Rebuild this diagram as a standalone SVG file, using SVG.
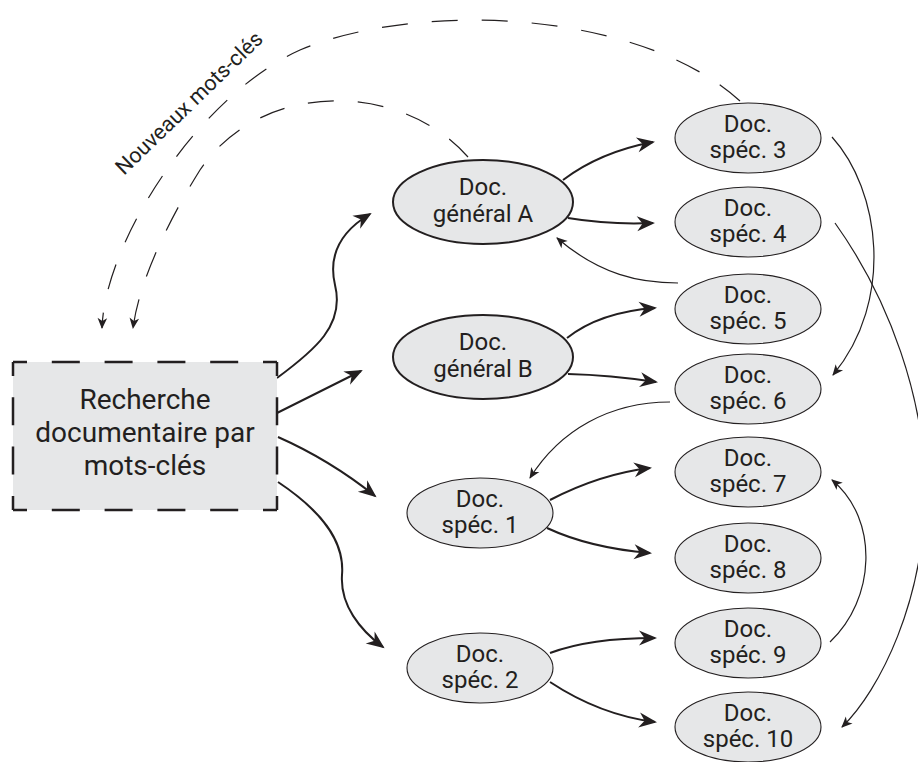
<svg xmlns="http://www.w3.org/2000/svg" width="918" height="762" viewBox="0 0 918 762">
  <style>
    .lbl { font-family: Roboto, "Liberation Sans", sans-serif; fill: #231f20; text-anchor: middle; }
    .node-text { font-size: 24px; }
    .box-text { font-size: 28px; }
    .gen { fill: #e6e7e8; stroke: #231f20; stroke-width: 2; }
    .spec { fill: #e6e7e8; stroke: #231f20; stroke-width: 1.1; }
    .thick { fill: none; stroke: #231f20; stroke-width: 2; marker-end: url(#arrowBig); }
    .thin { fill: none; stroke: #231f20; stroke-width: 1.2; marker-end: url(#arrowSmall); }
    .dash { fill: none; stroke: #231f20; stroke-width: 1.2; stroke-dasharray: 26 24; marker-end: url(#arrowSmall); }
    .boxedge { stroke: #231f20; stroke-width: 2.5; fill: none; }
  </style>
  <defs>
    <marker id="arrowBig" viewBox="-18 -9 21 18" refX="0" refY="0" markerWidth="21" markerHeight="18" markerUnits="userSpaceOnUse" orient="auto">
      <path d="M2,0 L-16,-7.5 L-10.5,0 L-16,7.5 Z" fill="#231f20"/>
    </marker>
    <marker id="arrowSmall" viewBox="-12 -6 14 12" refX="0" refY="0" markerWidth="14" markerHeight="12" markerUnits="userSpaceOnUse" orient="auto">
      <path d="M1,0 L-10,-4.8 L-7,0 L-10,4.8 Z" fill="#231f20"/>
    </marker>
  </defs>

  <!-- connectors -->
  <g id="connectors">
    <!-- feedback loops: new keywords back to the search -->
    <path class="dash" d="M740,101 C640,10 420,0 300,50 C200,95 105,240 102,328"/>
    <path class="dash" d="M468,157 C400,80 260,80 200,170 C175,210 140,275 133,328"/>

    <!-- from the search box -->
    <path class="thick" d="M277,378 C315,350 345,325 335,285 C328,255 340,232 370,214"/>
    <path class="thick" d="M277,413 L361,371"/>
    <path class="thick" d="M278,437 Q330,460 375,496"/>
    <path class="thick" d="M278,482 C320,510 345,540 342,575 C340,605 360,630 383,647"/>

    <!-- from general docs -->
    <path class="thick" d="M563,180 Q600,152 653,142"/>
    <path class="thick" d="M568,218 Q610,225 653,223"/>
    <path class="thick" d="M567,338 Q600,312 655,308"/>
    <path class="thick" d="M568,374 Q610,375 656,382"/>

    <!-- from spec 1 and spec 2 -->
    <path class="thick" d="M550,500 Q600,474 650,468"/>
    <path class="thick" d="M547,528 Q590,548 650,553"/>
    <path class="thick" d="M550,653 Q590,638 655,638"/>
    <path class="thick" d="M550,682 Q600,715 655,722"/>

    <!-- thin cross references -->
    <path class="thin" d="M678,283 C640,283 600,275 557,238"/>
    <path class="thin" d="M670,402 C610,402 560,430 530,478"/>
    <path class="thin" d="M832,137 C880,190 895,300 833,375"/>
    <path class="thin" d="M835,223 C890,300 925,400 925,490 C925,600 880,690 842,727"/>
    <path class="thin" d="M830,642 C875,600 880,520 832,480"/>
  </g>

  <!-- rotated label on the loops -->
  <text class="lbl" font-size="21.5" transform="translate(124,176) rotate(-44)" style="text-anchor:start">Nouveaux mots-clés</text>

  <!-- search box -->
  <g id="search-box">
    <rect x="13" y="362" width="264" height="148" fill="#e6e7e8"/>
    <line class="boxedge" x1="13" y1="362" x2="277" y2="362" stroke-dasharray="28 24.8" stroke-dashoffset="14"/>
    <line class="boxedge" x1="13" y1="510" x2="277" y2="510" stroke-dasharray="28 24.8" stroke-dashoffset="14"/>
    <line class="boxedge" x1="13" y1="362" x2="13" y2="510" stroke-dasharray="28 21.3" stroke-dashoffset="14"/>
    <line class="boxedge" x1="277" y1="362" x2="277" y2="510" stroke-dasharray="28 21.3" stroke-dashoffset="14"/>
    <text class="lbl box-text" x="145" y="409">Recherche</text>
    <text class="lbl box-text" x="145" y="442">documentaire par</text>
    <text class="lbl box-text" x="145" y="475">mots-clés</text>
  </g>

  <g id="gen-a">
    <ellipse class="gen" cx="483" cy="202" rx="90" ry="42"/>
    <text class="lbl node-text" x="483" y="195">Doc.</text>
    <text class="lbl node-text" x="483" y="222">général A</text>
  </g>
  <g id="gen-b">
    <ellipse class="gen" cx="483" cy="357" rx="90" ry="42"/>
    <text class="lbl node-text" x="483" y="350">Doc.</text>
    <text class="lbl node-text" x="483" y="377">général B</text>
  </g>

  <g id="spec-1">
    <ellipse class="spec" cx="480" cy="513" rx="73" ry="35"/>
    <text class="lbl node-text" x="480" y="507">Doc.</text>
    <text class="lbl node-text" x="480" y="533">spéc. 1</text>
  </g>
  <g id="spec-2">
    <ellipse class="spec" cx="480" cy="668" rx="73" ry="35"/>
    <text class="lbl node-text" x="480" y="662">Doc.</text>
    <text class="lbl node-text" x="480" y="688">spéc. 2</text>
  </g>
  <g id="spec-3">
    <ellipse class="spec" cx="748" cy="138" rx="73" ry="35"/>
    <text class="lbl node-text" x="748" y="132">Doc.</text>
    <text class="lbl node-text" x="748" y="158">spéc. 3</text>
  </g>
  <g id="spec-4">
    <ellipse class="spec" cx="748" cy="222" rx="73" ry="35"/>
    <text class="lbl node-text" x="748" y="216">Doc.</text>
    <text class="lbl node-text" x="748" y="242">spéc. 4</text>
  </g>
  <g id="spec-5">
    <ellipse class="spec" cx="748" cy="309" rx="73" ry="35"/>
    <text class="lbl node-text" x="748" y="303">Doc.</text>
    <text class="lbl node-text" x="748" y="329">spéc. 5</text>
  </g>
  <g id="spec-6">
    <ellipse class="spec" cx="748" cy="389" rx="73" ry="35"/>
    <text class="lbl node-text" x="748" y="383">Doc.</text>
    <text class="lbl node-text" x="748" y="409">spéc. 6</text>
  </g>
  <g id="spec-7">
    <ellipse class="spec" cx="748" cy="472" rx="73" ry="35"/>
    <text class="lbl node-text" x="748" y="466">Doc.</text>
    <text class="lbl node-text" x="748" y="492">spéc. 7</text>
  </g>
  <g id="spec-8">
    <ellipse class="spec" cx="748" cy="558" rx="73" ry="35"/>
    <text class="lbl node-text" x="748" y="552">Doc.</text>
    <text class="lbl node-text" x="748" y="578">spéc. 8</text>
  </g>
  <g id="spec-9">
    <ellipse class="spec" cx="748" cy="643" rx="73" ry="35"/>
    <text class="lbl node-text" x="748" y="637">Doc.</text>
    <text class="lbl node-text" x="748" y="663">spéc. 9</text>
  </g>
  <g id="spec-10">
    <ellipse class="spec" cx="748" cy="727" rx="73" ry="35"/>
    <text class="lbl node-text" x="748" y="721">Doc.</text>
    <text class="lbl node-text" x="748" y="747">spéc. 10</text>
  </g>
</svg>
